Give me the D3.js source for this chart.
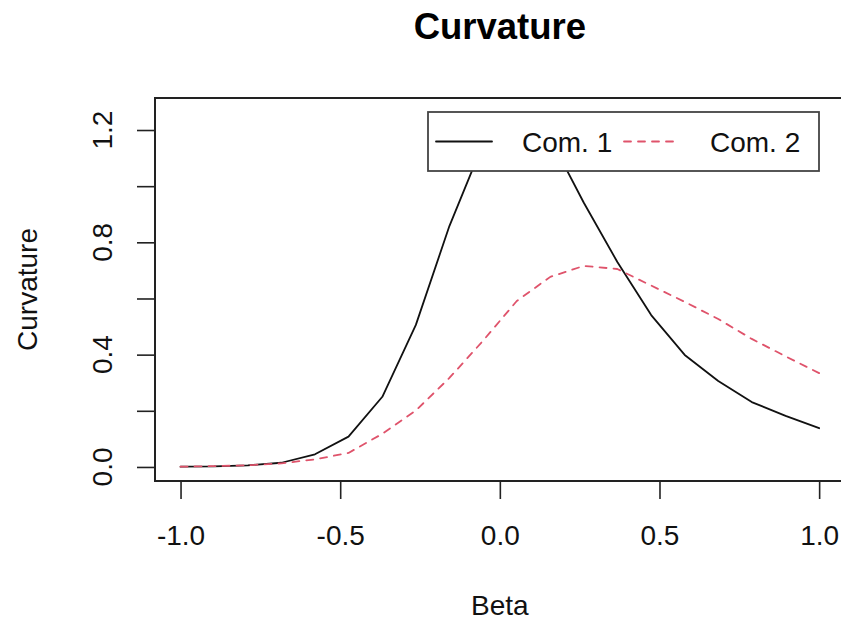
<!DOCTYPE html>
<html>
<head>
<meta charset="utf-8">
<script src="https://cdn.jsdelivr.net/npm/d3@7"></script>
<style>
  html, body { margin: 0; padding: 0; background: #fff; }
  svg { display: block; font-family: "Liberation Sans", Arial, Helvetica, sans-serif; }
</style>
</head>
<body>
<svg id="chart" width="841" height="621"></svg>
<script>
// Beta grid (20 evenly spaced values from -1 to 1)
const beta = [-1.000, -0.895, -0.789, -0.684, -0.579, -0.474, -0.368, -0.263, -0.158, -0.053,
               0.053,  0.158,  0.263,  0.368,  0.474,  0.579,  0.684,  0.789,  0.895,  1.000];

// Curvature of each component along beta
const com1 = [0.001, 0.002, 0.006, 0.015, 0.045, 0.108, 0.250, 0.506, 0.858, 1.150,
              1.220, 1.170, 0.941, 0.730, 0.541, 0.399, 0.306, 0.231, 0.182, 0.138];
const com2 = [0.001, 0.003, 0.006, 0.013, 0.027, 0.050, 0.118, 0.201, 0.317, 0.449,
              0.591, 0.677, 0.716, 0.705, 0.646, 0.588, 0.527, 0.456, 0.394, 0.334];

const seriesNames = ["Com. 1", "Com. 2"];
const xTicks = [-1.0, -0.5, 0.0, 0.5, 1.0];
const yTicks = [0.0, 0.2, 0.4, 0.6, 0.8, 1.0, 1.2];
const yTickLabels = [0.0, 0.4, 0.8, 1.2];

const svg = d3.select("#chart");
const plotLeft = 155, plotRight = 845, plotTop = 98, plotBottom = 481;
const fontSize = 28;

const x = d3.scaleLinear().domain([-1.08, 1.081]).range([plotLeft, plotRight]);
const y = d3.scaleLinear().domain([-0.05, 1.314]).range([plotBottom, plotTop]);

// clip region for the curves
svg.append("defs").append("clipPath").attr("id", "plotClip")
  .append("rect").attr("x", plotLeft).attr("y", plotTop)
  .attr("width", plotRight - plotLeft).attr("height", plotBottom - plotTop);

// title
svg.append("text")
  .attr("x", x(0)).attr("y", 39)
  .attr("text-anchor", "middle")
  .attr("font-weight", "bold")
  .attr("font-size", 36.5)
  .text("Curvature");

// x axis
const xAxis = svg.append("g").attr("transform", `translate(0,${plotBottom})`)
  .call(d3.axisBottom(x).tickValues(xTicks).tickSize(18).tickPadding(8)
        .tickFormat(d3.format(".1f")));
xAxis.select(".domain").remove();
xAxis.selectAll("line").attr("stroke", "#222").attr("stroke-width", 1.6);
xAxis.selectAll("text").attr("font-size", fontSize).attr("fill", "#111")
  .attr("font-family", "Liberation Sans, Arial, sans-serif")
  .attr("dy", null).attr("y", 64)
  .text(d => d3.format(".1f")(d).replace("−", "-"));

// y axis
const yAxis = svg.append("g").attr("transform", `translate(${plotLeft},0)`)
  .call(d3.axisLeft(y).tickValues(yTicks).tickSize(18).tickFormat(""));
yAxis.select(".domain").remove();
yAxis.selectAll("line").attr("stroke", "#222").attr("stroke-width", 1.6);

svg.append("g").selectAll("text").data(yTickLabels).join("text")
  .attr("transform", d => `translate(112,${y(d)}) rotate(-90)`)
  .attr("text-anchor", "middle")
  .attr("font-size", fontSize).attr("fill", "#111")
  .text(d => d3.format(".1f")(d));

// axis titles
svg.append("text")
  .attr("x", x(0)).attr("y", 615)
  .attr("text-anchor", "middle")
  .attr("font-size", fontSize).attr("fill", "#111")
  .text("Beta");
svg.append("text")
  .attr("transform", `translate(37,${(plotTop + plotBottom) / 2}) rotate(-90)`)
  .attr("text-anchor", "middle")
  .attr("font-size", fontSize).attr("fill", "#111")
  .text("Curvature");

// curves
const line = d3.line().x((d, i) => x(beta[i])).y(d => y(d));
const plot = svg.append("g").attr("clip-path", "url(#plotClip)");
plot.append("path").datum(com1)
  .attr("d", line).attr("fill", "none")
  .attr("stroke", "#111").attr("stroke-width", 1.8)
  .attr("stroke-linejoin", "round").attr("stroke-linecap", "round");
plot.append("path").datum(com2)
  .attr("d", line).attr("fill", "none")
  .attr("stroke", "#DF536B").attr("stroke-width", 1.8)
  .attr("stroke-dasharray", "7,7")
  .attr("stroke-linejoin", "round").attr("stroke-linecap", "round");

// plot frame
svg.append("rect")
  .attr("x", plotLeft).attr("y", plotTop)
  .attr("width", plotRight - plotLeft).attr("height", plotBottom - plotTop)
  .attr("fill", "none").attr("stroke", "#222").attr("stroke-width", 2);

// legend
const legend = svg.append("g");
legend.append("rect")
  .attr("x", 428).attr("y", 112).attr("width", 391).attr("height", 59)
  .attr("fill", "#fff").attr("stroke", "#444").attr("stroke-width", 1.8);
const legendItems = [
  { name: seriesNames[0], color: "#111", dash: null, x0: 436 },
  { name: seriesNames[1], color: "#DF536B", dash: "7,7", x0: 624 }
];
legendItems.forEach(it => {
  legend.append("line")
    .attr("x1", it.x0).attr("x2", it.x0 + 56)
    .attr("y1", 141.5).attr("y2", 141.5)
    .attr("stroke", it.color).attr("stroke-width", 1.8)
    .attr("stroke-dasharray", it.dash)
    .attr("stroke-linecap", "round");
  legend.append("text")
    .attr("x", it.x0 + 86).attr("y", 151.5)
    .attr("font-size", fontSize).attr("fill", "#111")
    .text(it.name);
});
</script>
</body>
</html>
